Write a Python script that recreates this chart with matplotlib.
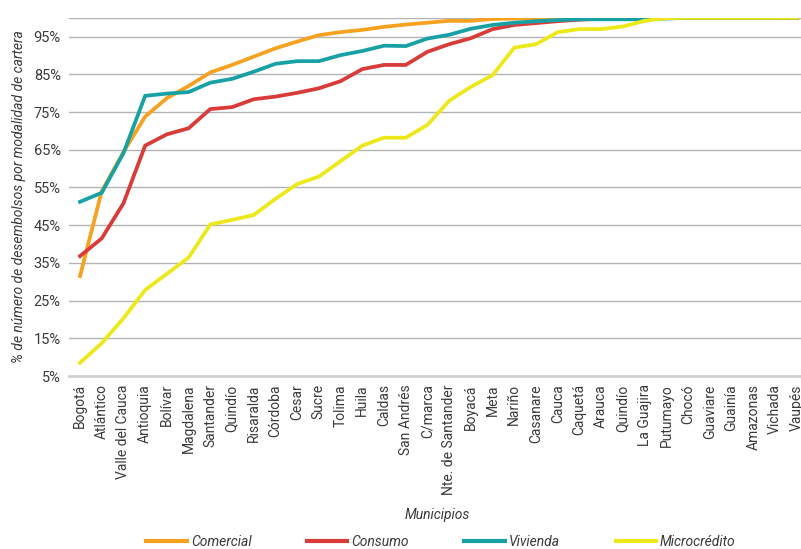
import matplotlib
matplotlib.use("Agg")
import matplotlib.pyplot as plt

plt.rcParams['font.family'] = ['Roboto', 'DejaVu Sans']

municipios = ["Bogotá", "Atlántico", "Valle del Cauca", "Antioquia", "Bolívar", "Magdalena",
              "Santander", "Quindío", "Risaralda", "Córdoba", "Cesar", "Sucre", "Tolima",
              "Huila", "Caldas", "San Andrés", "C/marca", "Nte. de Santander", "Boyacá",
              "Meta", "Nariño", "Casanare", "Cauca", "Caquetá", "Arauca", "Quindío",
              "La Guajira", "Putumayo", "Chocó", "Guaviare", "Guainía", "Amazonas",
              "Vichada", "Vaupés"]

comercial = [31.5, 54.0, 64.4, 73.8, 78.7, 81.9, 85.5, 87.5, 89.7, 91.9, 93.7, 95.4, 96.2,
             96.8, 97.6, 98.2, 98.7, 99.2, 99.2, 99.7, 99.8, 99.9, 100, 100, 100, 100,
             100, 100, 100, 100, 100, 100, 100, 100]
consumo = [36.8, 41.5, 50.8, 66.1, 69.1, 70.7, 75.8, 76.3, 78.4, 79.1, 80.1, 81.3, 83.2,
           86.4, 87.5, 87.5, 91.0, 93.0, 94.6, 97.0, 98.1, 98.6, 99.1, 99.5, 99.8, 100,
           100, 100, 100, 100, 100, 100, 100, 100]
vivienda = [51.2, 53.6, 64.1, 79.3, 79.9, 80.3, 82.8, 83.8, 85.7, 87.8, 88.5, 88.5, 90.1,
            91.2, 92.6, 92.5, 94.5, 95.5, 97.1, 98.1, 98.7, 99.1, 99.4, 99.6, 99.6, 99.6,
            99.6, 99.8, 100, 100, 100, 100, 100, 100]
microcredito = [8.5, 13.7, 20.3, 27.8, 32.1, 36.4, 45.2, 46.4, 47.7, 52.0, 55.9, 57.9, 62.0,
                66.1, 68.2, 68.2, 71.6, 78.0, 81.7, 84.8, 92.1, 93.0, 96.2, 97.0, 97.0, 97.7,
                99.2, 99.9, 100, 100, 100, 100, 100, 100]

series = [("Comercial", comercial, "#F6A11F"),
          ("Consumo", consumo, "#D83B38"),
          ("Vivienda", vivienda, "#17A1A5"),
          ("Microcrédito", microcredito, "#EDE81A")]

yticks = [5, 15, 25, 35, 45, 55, 65, 75, 85, 95]
txt = "#3a3a3a"
fs = 10

fig = plt.figure(figsize=(8.01, 5.49), dpi=100)
ax = fig.add_axes([69.15 / 801, 173 / 549, 738.4 / 801, 358.2 / 549])

x = list(range(len(municipios)))
for name, vals, col in series:
    ax.plot(x, vals, color=col, lw=2.7, label=name, solid_joinstyle='miter', zorder=3)

ax.set_xlim(-0.5, len(municipios) - 0.5)
ax.set_ylim(5, 100)
ax.set_yticks(yticks)
ax.set_yticklabels([f"{v}%" for v in yticks], fontsize=10.5, color=txt)
ax.set_xticks(x)
ax.set_xticklabels(municipios, rotation=90, fontsize=fs, color=txt)
ax.tick_params(axis='both', length=0)
ax.tick_params(axis='y', pad=6)
ax.tick_params(axis='x', pad=6)

for v in yticks[1:] + [100]:
    ax.axhline(v, color="#b3b3b3", lw=1.0, zorder=1)
for s in ["top", "right", "left"]:
    ax.spines[s].set_visible(False)
ax.spines["bottom"].set_color("#cfcfcf")
ax.spines["bottom"].set_linewidth(2.0)

ax.set_ylabel("% de número de desembolsos por modalidad de cartera", fontstyle="italic",
              fontsize=fs, color=txt)
ax.yaxis.set_label_coords(-0.058, 0.5)

fig.text(437 / 801, 1 - 515 / 549, "Municipios", fontstyle="italic", fontsize=fs,
         color=txt, ha="center", va="center")

leg = fig.legend(loc="center", bbox_to_anchor=(441 / 801, 1 - 542 / 549), ncol=4,
                 frameon=False, handlelength=2.9, handletextpad=0.3, columnspacing=4.0,
                 prop={"style": "italic", "size": fs})
for t in leg.get_texts():
    t.set_color(txt)
for h in leg.get_lines():
    h.set_linewidth(3.0)

fig.savefig("out.png", dpi=100)
